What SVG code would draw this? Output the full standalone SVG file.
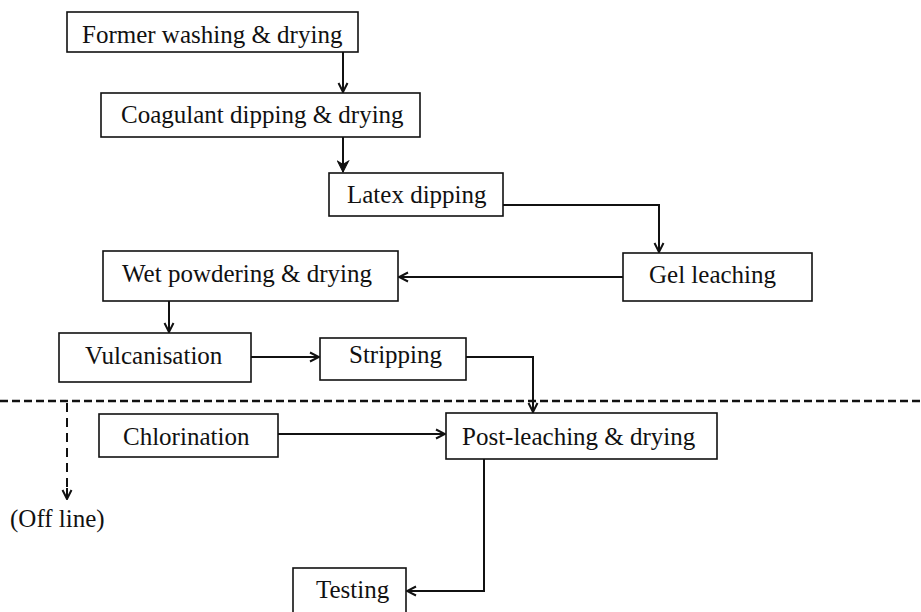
<svg xmlns="http://www.w3.org/2000/svg" width="921" height="612" viewBox="0 0 921 612">
<style>
  .box { fill: #ffffff; stroke: #111111; stroke-width: 1.6; }
  .lbl { font-family: "Liberation Serif", "Times New Roman", serif; font-size: 25px; fill: #111111; }
  .con { fill: none; stroke: #111111; stroke-width: 2; }
  .dash { fill: none; stroke: #111111; stroke-width: 2.5; stroke-dasharray: 8 4; }
  .vdash { fill: none; stroke: #111111; stroke-width: 2; stroke-dasharray: 9 6; }
</style>
<defs>
  <marker id="arr" viewBox="0 0 12 12" refX="11" refY="6" markerWidth="12" markerHeight="12" markerUnits="userSpaceOnUse" orient="auto">
    <path d="M2,1.5 L11,6 L2,10.5" fill="none" stroke="#111111" stroke-width="2"/>
  </marker>
  <marker id="arrf" viewBox="0 0 12 12" refX="11" refY="6" markerWidth="13" markerHeight="13" markerUnits="userSpaceOnUse" orient="auto">
    <path d="M1,1 L11,6 L1,11 L4,6 Z" fill="#111111" stroke="#111111" stroke-width="1"/>
  </marker>
</defs>
<rect width="921" height="612" fill="#ffffff"/>

<g id="connectors">
  <path class="con" d="M343,52 L343,92" marker-end="url(#arr)"/>
  <path class="con" d="M343,137 L343,172" marker-end="url(#arrf)"/>
  <path class="con" d="M503,205 L659,205 L659,252" marker-end="url(#arr)"/>
  <path class="con" d="M623,277 L399,277" marker-end="url(#arr)"/>
  <path class="con" d="M169,301 L169,332" marker-end="url(#arr)"/>
  <path class="con" d="M251,357 L319,357" marker-end="url(#arr)"/>
  <path class="con" d="M466,357 L533,357 L533,412" marker-end="url(#arr)"/>
  <path class="con" d="M278,434 L445,434" marker-end="url(#arr)"/>
  <path class="con" d="M484,459 L484,591 L407,591" marker-end="url(#arr)"/>
  <path class="vdash" d="M67,403 L67,488"/>
  <path class="con" d="M67,488 L67,499" marker-end="url(#arr)"/>
  <path class="dash" d="M0,401 L921,401"/>
</g>

<g id="n1">
  <rect class="box" x="67" y="12" width="291" height="40"/>
  <text class="lbl" x="82" y="43">Former washing &amp; drying</text>
</g>
<g id="n2">
  <rect class="box" x="101" y="93" width="319" height="44"/>
  <text class="lbl" x="121" y="123">Coagulant dipping &amp; drying</text>
</g>
<g id="n3">
  <rect class="box" x="329" y="173" width="174" height="43"/>
  <text class="lbl" x="347" y="203">Latex dipping</text>
</g>
<g id="n4">
  <rect class="box" x="623" y="253" width="189" height="48"/>
  <text class="lbl" x="649" y="283">Gel leaching</text>
</g>
<g id="n5">
  <rect class="box" x="103" y="251" width="295" height="50"/>
  <text class="lbl" x="122" y="282">Wet powdering &amp; drying</text>
</g>
<g id="n6">
  <rect class="box" x="59" y="333" width="192" height="49"/>
  <text class="lbl" x="85" y="364">Vulcanisation</text>
</g>
<g id="n7">
  <rect class="box" x="320" y="338" width="146" height="42"/>
  <text class="lbl" x="349" y="363">Stripping</text>
</g>
<g id="n8">
  <rect class="box" x="99" y="414" width="179" height="43"/>
  <text class="lbl" x="123" y="445">Chlorination</text>
</g>
<g id="n9">
  <rect class="box" x="446" y="413" width="271" height="46"/>
  <text class="lbl" x="462" y="445">Post-leaching &amp; drying</text>
</g>
<g id="n10">
  <rect class="box" x="293" y="568" width="113" height="52"/>
  <text class="lbl" x="316" y="598">Testing</text>
</g>
<g id="offline">
  <text class="lbl" x="10" y="527">(Off line)</text>
</g>
</svg>
